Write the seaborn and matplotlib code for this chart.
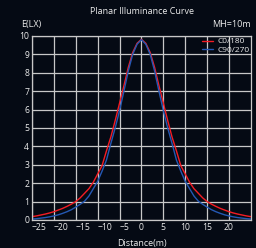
import numpy as np
import pandas as pd
import seaborn as sns
import matplotlib.pyplot as plt

# distance (m) and illuminance
distance = list(range(-25, 26))
c0_180 = [0.18, 0.22, 0.27, 0.32, 0.38, 0.45, 0.54, 0.63, 0.74, 0.86,
          1.0, 1.2, 1.45, 1.7, 2.05, 2.5, 2.95, 3.75, 4.5, 5.4,
          6.35, 7.3, 8.3, 9.1, 9.6, 9.82, 9.6, 9.1, 8.3, 7.3,
          6.35, 5.4, 4.5, 3.75, 2.95, 2.5, 2.05, 1.7, 1.45, 1.2,
          1.0, 0.86, 0.74, 0.63, 0.54, 0.45, 0.38, 0.32, 0.27, 0.22, 0.18]
c90_270 = [0.05, 0.07, 0.1, 0.13, 0.17, 0.22, 0.28, 0.36, 0.45, 0.56,
           0.7, 0.85, 1.02, 1.3, 1.7, 2.1, 2.65, 3.25, 4.15, 5.0,
           5.95, 7.0, 8.1, 9.0, 9.55, 9.8, 9.55, 9.0, 8.1, 7.0,
           5.95, 5.0, 4.15, 3.25, 2.65, 2.1, 1.7, 1.3, 1.02, 0.85,
           0.7, 0.56, 0.45, 0.36, 0.28, 0.22, 0.17, 0.13, 0.1, 0.07, 0.05]
series_names = ['C0/180', 'C90/270']
x_ticks = [-25, -20, -15, -10, -5, 0, 5, 10, 15, 20]
y_ticks = list(range(0, 11))

BG = '#050a14'
FG = '#ececec'
GRID = '#c8c8c8'

df = pd.DataFrame({
    'Distance': distance * 2,
    'E': c0_180 + c90_270,
    'curve': [series_names[0]] * len(distance) + [series_names[1]] * len(distance),
})

sns.set_style('dark')
plt.rcParams['font.family'] = ['Open Sans', 'DejaVu Sans']

fig = plt.figure(figsize=(2.56, 2.48), dpi=100, facecolor=BG)
ax = fig.add_axes([0.125, 0.113, 0.855, 0.742], facecolor=BG)

sns.lineplot(data=df, x='Distance', y='E', hue='curve', ax=ax,
             palette={series_names[0]: '#f41c24', series_names[1]: '#2458b4'},
             linewidth=1.0, sort=True)

ax.set_xlim(-25, 25)
ax.set_ylim(0, 10)
ax.set_xticks(x_ticks)
ax.set_yticks(y_ticks)
ax.tick_params(length=0, labelsize=6.2, colors=FG, pad=2)
# negative labels sit to the right of their gridline in the reference
for val, lab in zip(x_ticks, ax.get_xticklabels()):
    if val < 0:
        lab.set_ha('left')
ax.grid(True, color=GRID, linewidth=0.9)
for sp in ax.spines.values():
    sp.set_visible(True)
    sp.set_color(GRID)
    sp.set_linewidth(0.9)

ax.set_xlabel('Distance(m)', color=FG, fontsize=6.5, labelpad=5)
ax.set_ylabel('')

fig.text(0.553, 0.955, 'Planar Illuminance Curve', color=FG, fontsize=6.5,
         ha='center', va='center')
fig.text(0.082, 0.9, 'E(LX)', color=FG, fontsize=6.5, ha='left', va='center')
fig.text(0.98, 0.9, 'MH=10m', color=FG, fontsize=6.5, ha='right', va='center')

leg = ax.legend(loc='upper right', frameon=False, fontsize=6, handlelength=1.3,
                handletextpad=0.5, labelspacing=0.05, borderaxespad=0.1,
                borderpad=0.1)
for t in leg.get_texts():
    t.set_color(FG)

fig.savefig('out.png', dpi=100, facecolor=BG)
